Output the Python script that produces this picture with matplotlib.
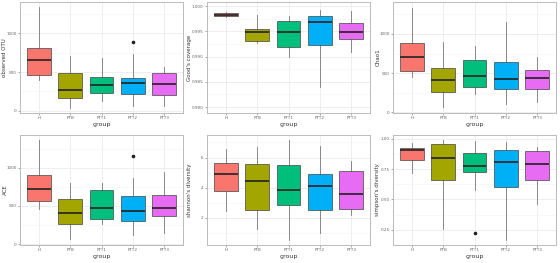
import matplotlib
matplotlib.use("Agg")
import matplotlib.pyplot as plt
from matplotlib.ticker import MultipleLocator

groups = ["H", "PTB", "PTT1", "PTT2", "PTT3"]
colors = ["#F8766D", "#A3A500", "#00BF7D", "#00B0F6", "#E76BF3"]

# each metric: [whislo, q1, median, q3, whishi] per group, plus outliers
obs_otu = [[394, 458, 661, 810, 1340], [38, 169, 267, 483, 712], [131, 225, 331, 437, 687],
           [60, 212, 356, 424, 738], [60, 203, 340, 492, 569]]
obs_otu_out = [[], [], [], [882], []]

goods = [[0.99795, 0.9980, 0.99831, 0.99858, 0.9988], [0.99275, 0.9932, 0.99495, 0.99547, 0.99825],
         [0.98984, 0.9919, 0.99489, 0.99703, 0.99806], [0.98394, 0.99229, 0.99683, 0.9980, 0.99922],
         [0.99093, 0.99353, 0.99495, 0.99664, 0.99903]]
goods_out = [[], [], [], [], []]

chao1 = [[450, 533, 712, 879, 1337], [66, 254, 408, 566, 896], [237, 325, 462, 667, 846],
         [104, 296, 421, 646, 1154], [133, 300, 437, 546, 708]]
chao1_out = [[], [], [], [], []]

ace = [[456, 562, 721, 907, 1363], [66, 265, 407, 584, 797], [261, 332, 473, 704, 797],
       [115, 301, 429, 633, 863], [146, 363, 473, 637, 947]]
ace_out = [[], [], [], [1155], []]

shannon = [[2.48, 3.77, 4.90, 5.61, 6.58], [1.26, 2.54, 4.42, 5.57, 6.71], [0.53, 2.86, 3.86, 5.48, 7.15],
           [1.0, 2.54, 4.10, 4.92, 6.76], [2.17, 2.56, 3.58, 5.09, 5.78]]
shannon_out = [[], [], [], [], []]

simpson = [[0.714, 0.827, 0.904, 0.926, 0.961], [0.258, 0.659, 0.838, 0.953, 0.986],
           [0.577, 0.723, 0.777, 0.885, 0.978], [0.165, 0.604, 0.808, 0.907, 0.970],
           [0.462, 0.659, 0.791, 0.896, 0.934]]
simpson_out = [[], [], [0.220], [], []]

panels = [
    ("observed OTU", obs_otu, obs_otu_out, (-30, 1405), [0, 500, 1000], ["0", "500", "1000"]),
    ("Good's coverage", goods, goods_out, (0.97883, 1.00084), [0.980, 0.985, 0.990, 0.995, 1.000],
     ["0.980", "0.985", "0.990", "0.995", "1.000"]),
    ("Chao1", chao1, chao1_out, (-8, 1408), [0, 500, 1000], ["0", "500", "1000"]),
    ("ACE", ace, ace_out, (-12, 1428), [0, 500, 1000], ["0", "500", "1000"]),
    ("shannon's diversity", shannon, shannon_out, (0.21, 7.49), [2, 4, 6], ["2", "4", "6"]),
    ("simpson's diversity", simpson, simpson_out, (0.125, 1.03), [0.25, 0.50, 0.75, 1.00],
     ["0.25", "0.50", "0.75", "1.00"]),
]

W, H = 560, 263
fig = plt.figure(figsize=(W / 100, H / 100), dpi=100)
lefts = [20, 207, 393]
label_x = [5, 189, 378]
tops = [2, 135]
bottoms = [113, 245]
width = 163

for i, (ylabel, stats, outs, ylim, ticks, ticklabels) in enumerate(panels):
    r, c = divmod(i, 3)
    ax = fig.add_axes([lefts[c] / W, 1 - bottoms[r] / H, width / W, (bottoms[r] - tops[r]) / H])
    bxs = []
    for g, s, o in zip(groups, stats, outs):
        bxs.append(dict(label=g, whislo=s[0], q1=s[1], med=s[2], q3=s[3], whishi=s[4], fliers=o))
    res = ax.bxp(bxs, positions=range(1, 6), widths=0.75, patch_artist=True, showcaps=False,
                 boxprops=dict(edgecolor="#444444", linewidth=0.5),
                 medianprops=dict(color="#222222", linewidth=1.2),
                 whiskerprops=dict(color="#777777", linewidth=0.6),
                 flierprops=dict(marker="o", markersize=1.6, markerfacecolor="#222222",
                                 markeredgecolor="#222222"))
    for patch, col in zip(res["boxes"], colors):
        patch.set_facecolor(col)
    for wh in res["whiskers"]:
        wh.set_zorder(1)
    ax.set_xlim(0.4, 5.6)
    ax.set_ylim(*ylim)
    ax.set_yticks(ticks)
    ax.set_yticklabels(ticklabels)
    ax.yaxis.set_minor_locator(MultipleLocator((ticks[1] - ticks[0]) / 2))
    ax.set_xticks(range(1, 6))
    ax.set_xticklabels(groups)
    ax.grid(True, which="major", color="#EBEBEB", linewidth=0.6)
    ax.grid(True, which="minor", axis="y", color="#F3F3F3", linewidth=0.4)
    ax.set_axisbelow(True)
    ax.tick_params(axis="both", which="major", labelsize=3.0, length=1.5, width=0.4,
                   colors="#666666", pad=1.0)
    ax.tick_params(axis="y", which="minor", length=0)
    for sp in ax.spines.values():
        sp.set_color("#BBBBBB")
        sp.set_linewidth(0.7)
    ax.set_xlabel("group", fontsize=4.5, labelpad=1, color="#333333")
    ax.set_ylabel(ylabel, fontsize=4.0, color="#333333", va="center")
    ax.yaxis.set_label_coords((label_x[c] - lefts[c]) / width, 0.5)

fig.savefig("out.png", dpi=100, facecolor="white")
